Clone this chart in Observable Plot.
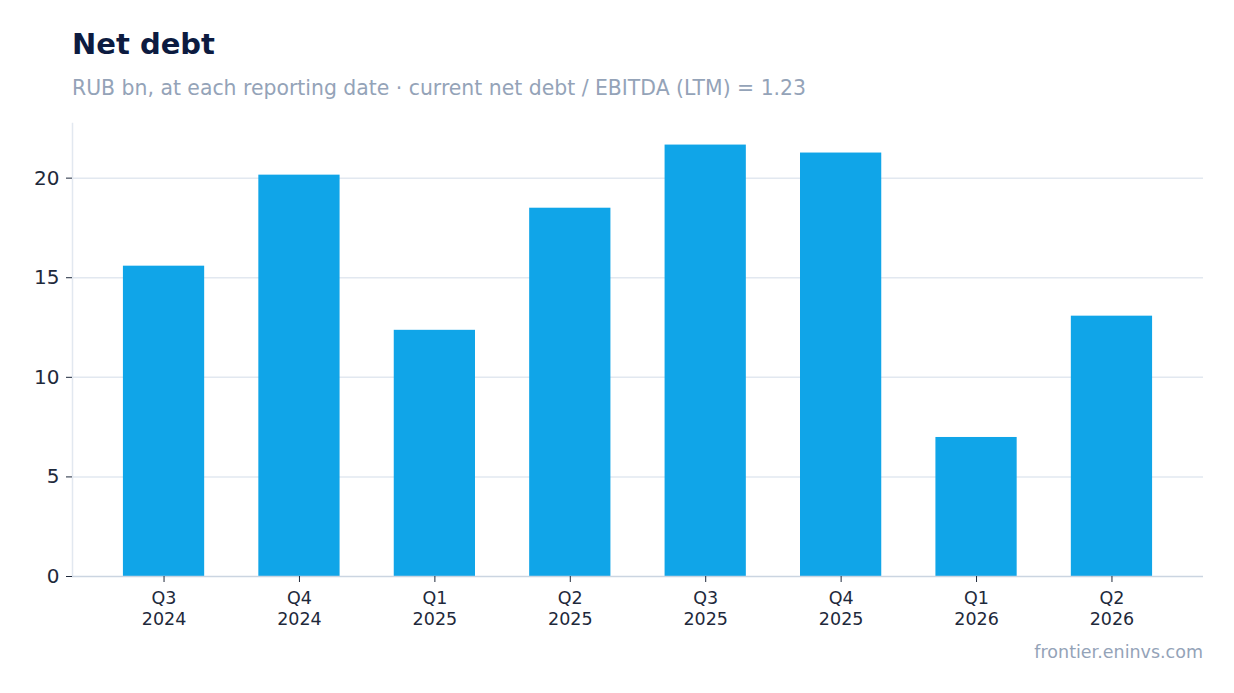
<!DOCTYPE html>
<html>
<head>
<meta charset="utf-8">
<script src="https://cdn.jsdelivr.net/npm/d3@7"></script>
<script src="https://cdn.jsdelivr.net/npm/@observablehq/plot@0.6"></script>
<style>
  html, body { margin: 0; padding: 0; background: #ffffff; }
  body { width: 1234px; height: 693px; font-family: "DejaVu Sans", sans-serif; position: relative; overflow: hidden; }
  #title { position: absolute; left: 72px; top: 27px; margin: 0; font-size: 29px; font-weight: bold; color: #0c1b40; line-height: 34px; }
  #subtitle { position: absolute; left: 72px; top: 77px; margin: 0; font-size: 20.4px; color: #94a3b8; line-height: 22px; }
  #chart { position: absolute; left: 0; top: 110px; }
  #caption { position: absolute; right: 31px; top: 642px; font-size: 17.5px; color: #94a3b8; line-height: 20px; }
</style>
</head>
<body>
<div id="title">Net debt</div>
<div id="subtitle">RUB bn, at each reporting date · current net debt / EBITDA (LTM) = 1.23</div>
<div id="chart"></div>
<div id="caption">frontier.eninvs.com</div>
<script>
const quarters = ["Q3\n2024", "Q4\n2024", "Q1\n2025", "Q2\n2025", "Q3\n2025", "Q4\n2025", "Q1\n2026", "Q2\n2026"];
const netDebt = [15.58, 20.15, 12.36, 18.49, 21.66, 21.26, 6.98, 13.07];
const yTicks = [0, 5, 10, 15, 20];

const data = quarters.map((q, i) => ({quarter: q, value: netDebt[i]}));
const yMax = d3.max(netDebt) * 1.05;

const chart = Plot.plot({
  width: 1234,
  height: 526,
  marginTop: 13,
  marginLeft: 72,
  marginRight: 31,
  marginBottom: 60,
  style: {fontFamily: "DejaVu Sans, sans-serif", color: "#1e293b", background: "transparent"},
  x: {domain: quarters, paddingInner: 0.4, paddingOuter: 0.376, round: false, label: null},
  y: {domain: [0, yMax], label: null},
  marks: [
    Plot.gridY(yTicks.filter(d => d > 0), {stroke: "#e2e8f0", strokeOpacity: 1, strokeWidth: 1.5}),
    Plot.frame({anchor: "left", stroke: "#e2e8f0", strokeWidth: 1.5}),
    Plot.barY(data, {x: "quarter", y: "value", fill: "#10a5e8"}),
    Plot.ruleY([0], {stroke: "#cbd5e1", strokeWidth: 1.5}),
    Plot.axisY(yTicks, {tickSize: 6, tickPadding: 7, fontSize: 20, stroke: "#1e293b", fill: "#1e293b", label: null}),
    Plot.axisX({tickSize: 6, tickPadding: 7, fontSize: 17.5, lineHeight: 1.2, stroke: "#1e293b", fill: "#1e293b", label: null})
  ]
});
document.getElementById("chart").appendChild(chart);
</script>
</body>
</html>
